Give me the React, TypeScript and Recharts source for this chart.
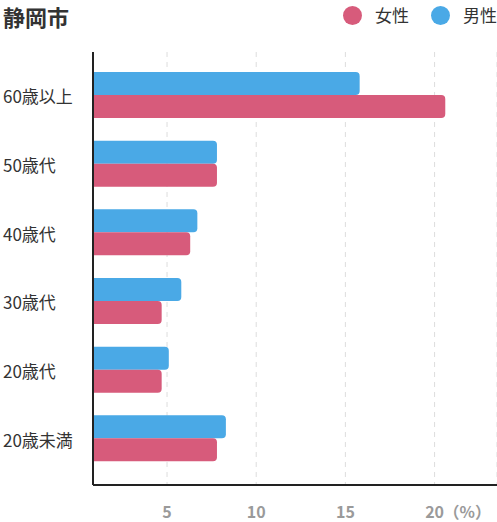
import { Bar, BarChart, CartesianGrid, XAxis, YAxis } from "recharts";

const categories = ["60歳以上", "50歳代", "40歳代", "30歳代", "20歳代", "20歳未満"];
const male = [15.8, 7.8, 6.7, 5.8, 5.1, 8.3];
const female = [20.6, 7.8, 6.3, 4.7, 4.7, 7.8];
const xTicks = [5, 10, 15, 20];

const BLUE = "#4aa9e6";
const PINK = "#d75b7b";
const FONT = "'Noto Sans CJK JP', 'Noto Sans', sans-serif";

const data = categories.map((name, i) => ({ name, male: male[i], female: female[i] }));

function YTick({ y, payload }: any) {
  return (
    <text x={3} y={y} dy={8} textAnchor="start" fontSize={17} fill="#333" fontFamily={FONT}>
      {payload.value}
    </text>
  );
}

function XTick({ x, y, payload }: any) {
  const last = payload.value === 20;
  return (
    <g>
      <text x={x} y={y + 25} textAnchor="middle" fontSize={16} fontWeight={700} fill="#9a9a9a" fontFamily={FONT}>
        {payload.value}
      </text>
      {last && (
        <text x={x + 9} y={y + 25} textAnchor="start" fontSize={16} fontWeight={700} fill="#9a9a9a" fontFamily={FONT}>
          （%）
        </text>
      )}
    </g>
  );
}

export default function App() {
  return (
    <div style={{ position: "absolute", left: 0, top: 0, width: 497, height: 522, background: "white", fontFamily: FONT }}>
      <div style={{ position: "absolute", left: 3, top: 0, fontSize: 22, fontWeight: 700, color: "#333", lineHeight: "normal" }}>
        静岡市
      </div>
      <div style={{ position: "absolute", right: 0, top: 2, display: "flex", alignItems: "center", fontSize: 17, color: "#333", lineHeight: "26px" }}>
        <LegendItem color={PINK} label="女性" />
        <LegendItem color={BLUE} label="男性" />
      </div>
      <BarChart
        width={497}
        height={522}
        data={data}
        layout="vertical"
        margin={{ top: 52, right: 0, bottom: 0, left: 0 }}
        barGap={0}
        barCategoryGap={10}
      >
        <CartesianGrid horizontal={false} stroke="#dddddd" strokeDasharray="5 5" />
        <XAxis
          type="number"
          domain={[0.85, 23.5]}
          ticks={xTicks}
          allowDataOverflow
          height={37}
          axisLine={{ stroke: "#222", strokeWidth: 2 }}
          tickLine={false}
          tick={<XTick />}
        />
        <YAxis
          type="category"
          dataKey="name"
          width={93}
          padding={{ top: 9, bottom: 12 }}
          axisLine={{ stroke: "#222", strokeWidth: 2 }}
          tickLine={false}
          tick={<YTick />}
        />
        <Bar dataKey="male" fill={BLUE} barSize={23} radius={[0, 4, 4, 0]} isAnimationActive={false} />
        <Bar dataKey="female" fill={PINK} barSize={23} radius={[0, 4, 4, 0]} isAnimationActive={false} />
      </BarChart>
    </div>
  );
}

function LegendItem({ color, label }: { color: string; label: string }) {
  return (
    <div style={{ display: "flex", alignItems: "center", marginLeft: 22 }}>
      <span style={{ width: 19, height: 19, borderRadius: 10, background: color, display: "inline-block", marginRight: 13 }} />
      <span>{label}</span>
    </div>
  );
}
